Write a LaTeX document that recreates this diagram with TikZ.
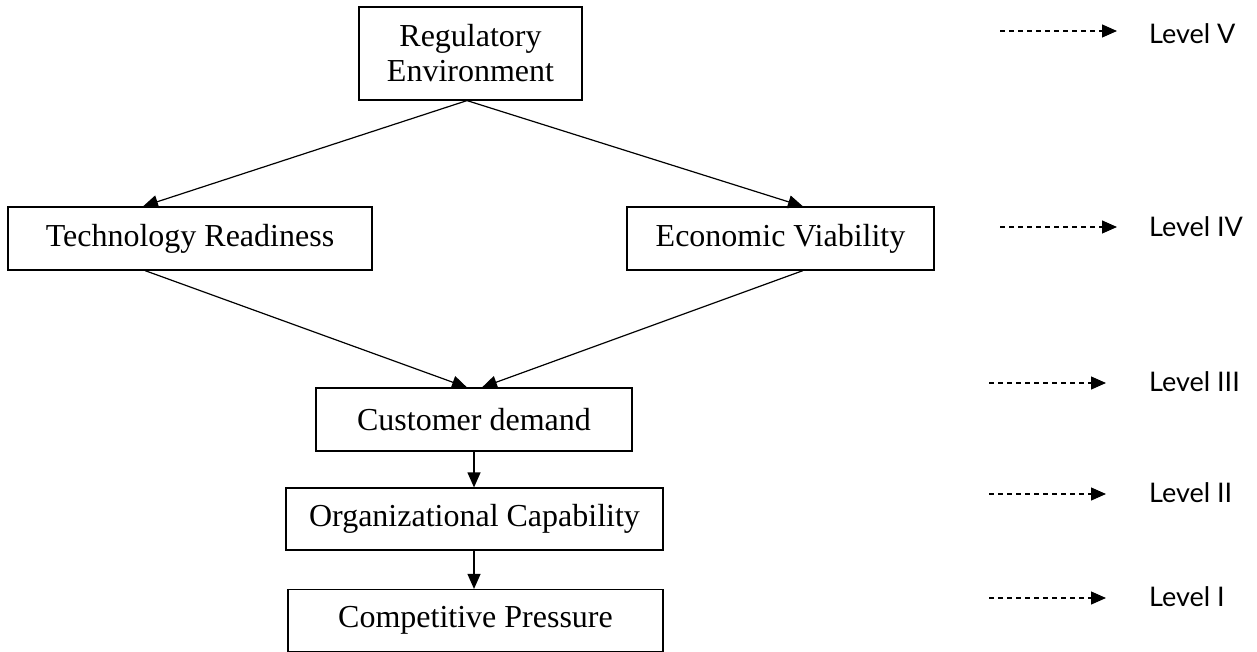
\documentclass[tikz,border=0pt]{standalone}
\usepackage{fontspec}
\setmainfont{Liberation Serif}
\newfontfamily\lvlfont{Lato}
\usetikzlibrary{arrows.meta}
\begin{document}
\begin{tikzpicture}[x=1pt,y=-1pt,
  box/.style={draw,line width=1.2pt,inner sep=0pt,align=center,
    font=\fontsize{32}{35}\selectfont},
  arr/.style={line width=1.2pt,-{Triangle[length=15pt,width=13pt]}},
  lvl/.style={line width=1.2pt,dash pattern=on 5pt off 4pt,
    -{Triangle[length=15pt,width=13pt]}},
  lvltext/.style={anchor=west,inner sep=0pt,font=\lvlfont\fontsize{27}{30}\selectfont}]
\useasboundingbox (0,0) rectangle (1257,652);
\node[box,minimum width=223pt,minimum height=93pt] (reg) at (470.5,53.5) {Regulatory\\Environment};
\node[box,minimum width=364pt,minimum height=63pt] (tech) at (190,238.5) {Technology Readiness};
\node[box,minimum width=307pt,minimum height=63pt] (econ) at (780.5,238.5) {Economic Viability};
\node[box,minimum width=316pt,minimum height=63pt] (cust) at (474,419.5) {Customer demand};
\node[box,minimum width=377pt,minimum height=62pt] (org) at (474.5,519) {Organizational Capability};
\node[box,minimum width=375pt,minimum height=62pt] (comp) at (475.5,620.5) {Competitive Pressure};
\draw[arr] ([xshift=-3.5pt]reg.south) -- ([xshift=-47pt]tech.north);
\draw[arr] ([xshift=-3.5pt]reg.south) -- ([xshift=22.5pt]econ.north);
\draw[arr] ([xshift=-45pt]tech.south) -- ([xshift=-7pt]cust.north);
\draw[arr] ([xshift=22.5pt]econ.south) -- ([xshift=8pt]cust.north);
\draw[arr] (cust.south) -- (cust.south |- org.north);
\draw[arr] (cust.south |- org.south) -- (cust.south |- comp.north);
% levels
\node[lvltext] (l5) at (1149,34) {Level V};
\node[lvltext] (l4) at (1149,227) {Level IV};
\node[lvltext] (l3) at (1149,382) {Level III};
\node[lvltext] (l2) at (1149,493) {Level II};
\node[lvltext] (l1) at (1149,597) {Level I};
\coordinate (s5) at (1000,31); \coordinate (e5) at (1117,31);
\coordinate (s4) at (1000,227); \coordinate (e4) at (1117,227);
\coordinate (s3) at (989,383); \coordinate (e3) at (1106,383);
\coordinate (s2) at (989,494); \coordinate (e2) at (1106,494);
\coordinate (s1) at (989,598); \coordinate (e1) at (1106,598);
\draw[lvl] (s5) -- (e5);
\draw[lvl] (s4) -- (e4);
\draw[lvl] (s3) -- (e3);
\draw[lvl] (s2) -- (e2);
\draw[lvl] (s1) -- (e1);
\end{tikzpicture}
\end{document}
